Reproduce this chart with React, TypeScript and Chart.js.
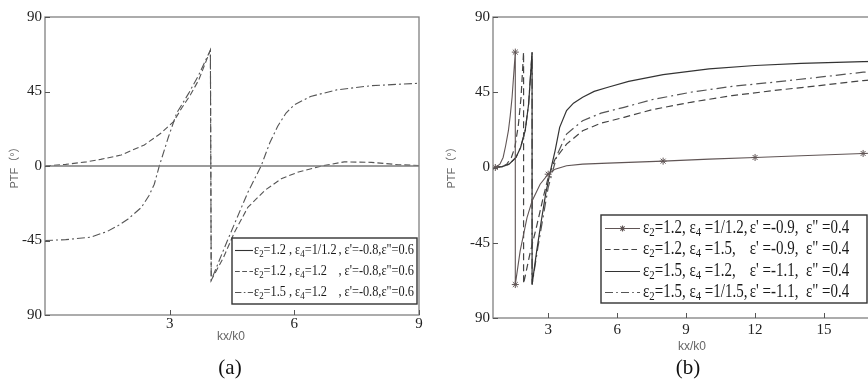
import React, { useEffect, useRef } from "react";
import { Chart, registerables } from "chart.js";
Chart.register(...registerables);

// ---------- Panel (a) data ----------
const aXTicks = [3, 6, 9];
const aSolidX = [0, 9];
const aSolidY = [0, 0];
const aDashX = [0, 0.5, 1.0, 1.34, 1.83, 2.39, 2.8, 3.1, 3.29, 3.5, 3.7, 3.98, 4.0, 4.3, 4.56, 4.88, 5.3, 5.7, 6.1, 6.66, 7.2, 7.85, 8.5, 9.0];
const aDashY = [0, 1.0, 2.5, 4.0, 6.6, 12.7, 20, 27, 35, 43, 52, 70, -69, -55, -40, -25, -14.5, -7.5, -3.6, 0, 2.5, 2.2, 0.8, 0.3];
const aDDX = [0, 0.5, 1.1, 1.5, 1.76, 2.0, 2.32, 2.5, 2.63, 2.75, 2.97, 3.17, 3.46, 3.7, 3.98, 4.0, 4.39, 4.88, 5.2, 5.41, 5.6, 5.8, 6.0, 6.39, 7.02, 7.85, 9.0];
const aDDY = [-45, -44.5, -43, -39.5, -36, -32, -25, -18, -11, 0, 17.5, 32, 44, 55, 70, -69, -45, -16, 0, 14, 24, 32, 37, 42, 46, 48.5, 50];
const aLegend = [
  ["ε_2=1.2 , ε_4=1/1.2", ", ε'=-0.8,ε\"=0.6"],
  ["ε_2=1.2 , ε_4=1.2", ", ε'=-0.8,ε\"=0.6"],
  ["ε_2=1.5 , ε_4=1.2", ", ε'=-0.8,ε\"=0.6"],
];

// ---------- Panel (b) data ----------
const bXTicks = [3, 6, 9, 12, 15];
const b1X = [0.6, 0.7, 0.9, 1.04, 1.15, 1.27, 1.35, 1.43, 1.57, 1.57, 1.78, 2.08, 2.3, 2.65, 3.0, 3.3, 3.8, 4.5, 5.6, 8.0, 10.0, 12.0, 14.0, 16.7, 18];
const b1Y = [0, 0, 2, 6, 13, 22, 31, 42, 69, -70, -50, -30, -20, -10, -4, -1, 1, 2, 2.6, 3.8, 5, 6, 7, 8.4, 9];
const b1Markers = [0.7, 1.57, 3.0, 8.0, 12.0, 16.7];
const b2X = [0.6, 1.0, 1.2, 1.4, 1.55, 1.7, 1.82, 1.93, 1.93, 2.2, 2.5, 2.8, 3.0, 3.3, 3.8, 4.5, 5.3, 6.3, 7.5, 9.2, 11, 12.8, 14.8, 16.7, 18];
const b2Y = [0, 0.5, 2, 6, 12, 25, 42, 69, -69.5, -52, -35, -17, -6, 5, 14, 22, 26.5, 30, 34.5, 39, 43, 46, 49, 52, 53.5];
const b3X = [0.6, 1.0, 1.3, 1.6, 1.8, 2.0, 2.15, 2.3, 2.3, 2.5, 2.7, 2.9, 3.1, 3.3, 3.5, 3.8, 4.1, 4.5, 5.0, 5.6, 6.5, 8.0, 10.0, 12.0, 14.0, 16.7, 18];
const b3Y = [0, 0.5, 2, 6, 12, 22, 38, 69, -70, -50, -32, -15, -2, 10, 24, 34, 38.5, 42, 45.5, 48, 51.5, 55.5, 59, 61, 62.3, 63.3, 63.6];
const b4X = [0.6, 1.0, 1.3, 1.6, 1.8, 2.0, 2.15, 2.3, 2.3, 2.55, 2.8, 3.0, 3.2, 3.4, 3.8, 4.5, 5.3, 6.3, 7.5, 9.2, 11, 12.8, 14.8, 16.7, 18];
const b4Y = [0, 0.5, 2, 6, 12, 22, 38, 69, -70, -48, -28, -12, -2, 8, 20, 28, 32.5, 36, 40.5, 45, 48.5, 51, 54, 57, 58];
const bLegend = [
  ["ε_2=1.2, ε_4 =1/1.2,", "ε' =-0.9,  ε\" =0.4"],
  ["ε_2=1.2, ε_4 =1.5,", "ε' =-0.9,  ε\" =0.4"],
  ["ε_2=1.5, ε_4 =1.2,", "ε' =-1.1,  ε\" =0.4"],
  ["ε_2=1.5, ε_4 =1/1.5,", "ε' =-1.1,  ε\" =0.4"],
];

// ---------- shared ----------
const yTickVals = [-90, -45, 0, 45, 90];
const yTickLabels = ["90", "-45", "0", "45", "90"];

const SERIF = "'Liberation Serif', 'Times New Roman', serif";
const SANS = "'Liberation Sans', 'Noto Sans CJK SC', sans-serif";

type Seg = { t: string; sub?: boolean };
function parseLabel(s: string): Seg[] {
  const out: Seg[] = [];
  let buf = "";
  for (let i = 0; i < s.length; i++) {
    if (s[i] === "_" && i + 1 < s.length) {
      if (buf) out.push({ t: buf });
      buf = "";
      out.push({ t: s[i + 1], sub: true });
      i++;
    } else buf += s[i];
  }
  if (buf) out.push({ t: buf });
  return out;
}

type Series = { x: number[]; y: number[]; color: string; width: number; dash: number[]; markers?: number[] };

type PanelCfg = {
  left: number;
  canvasW: number;
  plot: { l: number; t: number; r: number; b: number };
  xMin: number;
  xMax: number;
  xTicks: number[];
  xTickPad: number;
  series: Series[];
  legend: string[][];
  legendBox: { x1: number; y1: number; x2: number; y2: number };
  sample: { x1: number; x2: number };
  textX: number;
  textW: number;
  rowYs: number[];
  ptf: { x: number; y: number };
  kx: { x: number; y: number };
  caption: { t: string; x: number; y: number };
};

const H = 382;

const panelA: PanelCfg = {
  left: 0,
  canvasW: 430,
  plot: { l: 45, t: 17, r: 419, b: 315 },
  xMin: 0,
  xMax: 9,
  xTicks: aXTicks,
  xTickPad: 0,
  series: [
    { x: aSolidX, y: aSolidY, color: "#7a7a7a", width: 1.5, dash: [] },
    { x: aDashX, y: aDashY, color: "#555", width: 1.1, dash: [6, 3] },
    { x: aDDX, y: aDDY, color: "#555", width: 1.1, dash: [8, 3, 2, 3] },
  ],
  legend: aLegend,
  legendBox: { x1: 232, y1: 238, x2: 417, y2: 304 },
  sample: { x1: 235, x2: 253 },
  textX: 254,
  textW: 160,
  rowYs: [250, 271, 292],
  ptf: { x: 15, y: 165 },
  kx: { x: 231, y: 337 },
  caption: { t: "(a)", x: 230, y: 368 },
};

const panelB: PanelCfg = {
  left: 430,
  canvasW: 480,
  plot: { l: 493, t: 17, r: 893, b: 318 },
  xMin: 0.6,
  xMax: 18,
  xTicks: bXTicks,
  xTickPad: 3,
  series: [
    { x: b1X, y: b1Y, color: "#605555", width: 1.1, dash: [], markers: b1Markers },
    { x: b2X, y: b2Y, color: "#444", width: 1.2, dash: [7, 4] },
    { x: b3X, y: b3Y, color: "#333", width: 1.2, dash: [] },
    { x: b4X, y: b4Y, color: "#555", width: 1.2, dash: [10, 4, 2, 4] },
  ],
  legend: bLegend,
  legendBox: { x1: 601, y1: 215, x2: 867, y2: 303 },
  sample: { x1: 605, x2: 640 },
  textX: 643,
  textW: 215,
  rowYs: [228, 249, 271, 292],
  ptf: { x: 452, y: 165 },
  kx: { x: 692, y: 347 },
  caption: { t: "(b)", x: 688, y: 368 },
};

const LEGEND_STRETCH = 1.22;

function drawStar(ctx: CanvasRenderingContext2D, x: number, y: number, r: number) {
  ctx.beginPath();
  for (let i = 0; i < 4; i++) {
    const a = (Math.PI / 4) * i;
    ctx.moveTo(x - Math.cos(a) * r, y - Math.sin(a) * r);
    ctx.lineTo(x + Math.cos(a) * r, y + Math.sin(a) * r);
  }
  ctx.stroke();
}

function makeDecor(cfg: PanelCfg) {
  return {
    id: "decor",
    afterDraw(chart: any) {
      const ctx: CanvasRenderingContext2D = chart.ctx;
      const ox = cfg.left;
      const ca = chart.chartArea;
      const xs = chart.scales.x;
      const ys = chart.scales.y;
      ctx.save();
      // border
      ctx.setLineDash([]);
      ctx.strokeStyle = "#808080";
      ctx.lineWidth = 1.3;
      ctx.strokeRect(ca.left, ca.top, ca.right - ca.left, ca.bottom - ca.top);
      // inward ticks
      ctx.strokeStyle = "#555";
      ctx.lineWidth = 1;
      cfg.xTicks.forEach((v) => {
        const px = Math.round(xs.getPixelForValue(v)) + 0.5;
        ctx.beginPath();
        ctx.moveTo(px, ca.bottom);
        ctx.lineTo(px, ca.bottom - 5);
        ctx.stroke();
      });
      yTickVals.forEach((v) => {
        const py = Math.round(ys.getPixelForValue(v)) + 0.5;
        ctx.beginPath();
        ctx.moveTo(ca.left, py);
        ctx.lineTo(ca.left + 5, py);
        ctx.stroke();
      });
      // legend box
      const b = cfg.legendBox;
      ctx.fillStyle = "#fff";
      ctx.fillRect(b.x1 - ox, b.y1, b.x2 - b.x1, b.y2 - b.y1);
      ctx.strokeStyle = "#333";
      ctx.lineWidth = 1.4;
      ctx.strokeRect(b.x1 - ox, b.y1, b.x2 - b.x1, b.y2 - b.y1);
      // legend text fit
      const rows = cfg.legend.map((r) => r.map(parseLabel));
      const segW = (segs: Seg[], fs: number) =>
        segs.reduce((w, s) => {
          ctx.font = `${s.sub ? fs * 0.72 : fs}px ${SERIF}`;
          return w + ctx.measureText(s.t).width;
        }, 0);
      const measureAll = (fs: number) => {
        const c1 = Math.max(...rows.map((r) => segW(r[0], fs)));
        const c2 = Math.max(...rows.map((r) => segW(r[1], fs)));
        return { c1, total: c1 + fs * 0.15 + c2 };
      };
      const base = 14;
      const m0 = measureAll(base);
      const fs = Math.min(15, (base * cfg.textW) / m0.total);
      const m = measureAll(fs);
      ctx.textBaseline = "middle";
      ctx.textAlign = "left";
      rows.forEach((r, i) => {
        const y = cfg.rowYs[i];
        const s = cfg.series[i];
        ctx.strokeStyle = s.color === "#7a7a7a" ? "#333" : s.color;
        ctx.lineWidth = 1.1;
        ctx.setLineDash(s.dash.length ? s.dash.map((d) => d * 0.8) : []);
        ctx.beginPath();
        ctx.moveTo(cfg.sample.x1 - ox, y + 0.5);
        ctx.lineTo(cfg.sample.x2 - ox, y + 0.5);
        ctx.stroke();
        ctx.setLineDash([]);
        if (s.markers) drawStar(ctx, (cfg.sample.x1 + cfg.sample.x2) / 2 - ox, y + 0.5, 3);
        ctx.fillStyle = "#1a1a1a";
        let x = cfg.textX - ox;
        const drawSegs = (segs: Seg[]) => {
          segs.forEach((sg) => {
            const f = sg.sub ? fs * 0.72 : fs;
            ctx.font = `${f}px ${SERIF}`;
            ctx.save();
            ctx.translate(x, y);
            ctx.scale(1, LEGEND_STRETCH);
            ctx.fillText(sg.t, 0, sg.sub ? fs * 0.26 : 0);
            ctx.restore();
            x += ctx.measureText(sg.t).width;
          });
        };
        drawSegs(r[0]);
        x = cfg.textX - ox + m.c1 + fs * 0.15;
        drawSegs(r[1]);
      });
      // axis titles
      ctx.fillStyle = "#666";
      ctx.font = `11px ${SANS}`;
      ctx.textAlign = "center";
      ctx.textBaseline = "middle";
      ctx.save();
      ctx.translate(cfg.ptf.x - ox, cfg.ptf.y);
      ctx.rotate(-Math.PI / 2);
      ctx.fillText("PTF（°）", 0, 0);
      ctx.restore();
      ctx.font = `12px ${SANS}`;
      ctx.fillText("kx/k0", cfg.kx.x - ox, cfg.kx.y);
      ctx.fillStyle = "#111";
      ctx.font = `21px ${SERIF}`;
      ctx.fillText(cfg.caption.t, cfg.caption.x - ox, cfg.caption.y);
      ctx.restore();
    },
  };
}

function buildConfig(cfg: PanelCfg): any {
  const p = cfg.plot;
  const W = cfg.canvasW;
  return {
    type: "scatter",
    data: {
      datasets: cfg.series.map((s) => ({
        data: s.x.map((x, i) => ({ x, y: s.y[i] })),
        showLine: true,
        borderColor: s.color,
        borderWidth: s.width,
        borderDash: s.dash,
        backgroundColor: s.color,
        tension: 0,
        fill: false,
        pointStyle: "star",
        pointBorderColor: s.color,
        pointBorderWidth: 1,
        pointRadius: s.markers
          ? (c: any) => (c.raw && s.markers!.includes(c.raw.x) ? 3.5 : 0)
          : 0,
        pointHoverRadius: 0,
      })),
    },
    options: {
      responsive: false,
      animation: false,
      devicePixelRatio: 1,
      events: [],
      layout: { padding: { left: 0, top: p.t, right: W - (p.r - cfg.left), bottom: 0 } },
      plugins: { legend: { display: false }, tooltip: { enabled: false }, title: { display: false } },
      scales: {
        x: {
          type: "linear",
          min: cfg.xMin,
          max: cfg.xMax,
          grid: { display: false, drawTicks: false },
          border: { display: false },
          ticks: {
            color: "#222",
            font: { family: SERIF, size: 15 },
            padding: cfg.xTickPad,
            maxRotation: 0,
            autoSkip: false,
          },
          afterBuildTicks: (ax: any) => {
            ax.ticks = cfg.xTicks.map((v) => ({ value: v }));
          },
          afterFit: (ax: any) => {
            ax.height = H - p.b;
          },
        },
        y: {
          type: "linear",
          min: -90,
          max: 90,
          grid: { display: false, drawTicks: false },
          border: { display: false },
          ticks: {
            color: "#222",
            font: { family: SERIF, size: 15 },
            padding: 3,
            autoSkip: false,
            callback: (v: number) => {
              const i = yTickVals.indexOf(v);
              return i >= 0 ? yTickLabels[i] : "";
            },
          },
          afterBuildTicks: (ax: any) => {
            ax.ticks = yTickVals.map((v) => ({ value: v }));
          },
          afterFit: (ax: any) => {
            ax.width = p.l - cfg.left;
          },
        },
      },
    },
    plugins: [makeDecor(cfg)],
  };
}

function Panel({ cfg }: { cfg: PanelCfg }) {
  const ref = useRef<HTMLCanvasElement>(null);
  useEffect(() => {
    const chart = new Chart(ref.current as HTMLCanvasElement, buildConfig(cfg));
    return () => chart.destroy();
  }, [cfg]);
  return (
    <canvas
      ref={ref}
      width={cfg.canvasW}
      height={H}
      style={{ position: "absolute", left: cfg.left, top: 0, width: cfg.canvasW, height: H }}
    />
  );
}

export default function App() {
  return (
    <div
      style={{
        position: "fixed",
        left: 0,
        top: 0,
        width: 868,
        height: H,
        overflow: "hidden",
        background: "#fff",
      }}
    >
      <Panel cfg={panelA} />
      <Panel cfg={panelB} />
    </div>
  );
}
